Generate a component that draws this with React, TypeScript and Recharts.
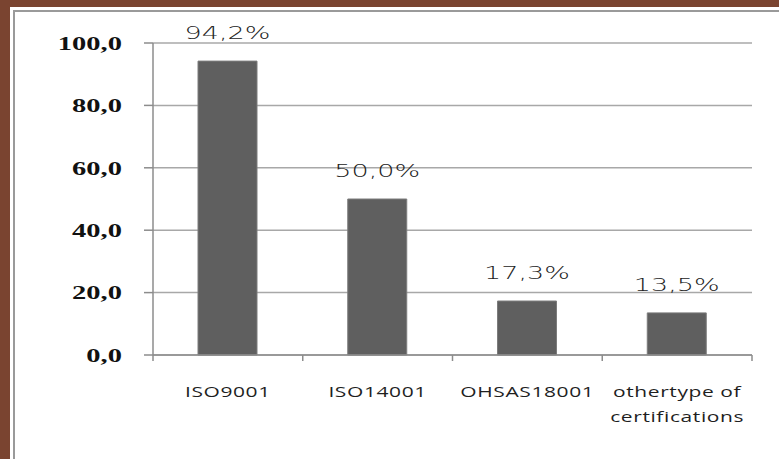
import React from "react";
import { Bar, BarChart, CartesianGrid, LabelList, XAxis, YAxis } from "recharts";

// data
const categories = ["ISO9001", "ISO14001", "OHSAS18001", "othertype of certifications"];
const shares = [94.2, 50.0, 17.3, 13.5];
const yTicks = [0, 20, 40, 60, 80, 100];

const data = categories.map((name, i) => ({ name, share: shares[i] }));

// the source picture is stretched sideways, so text gets scaled the same way
const STRETCH = 1.5;

const fmt = (v: number) => v.toFixed(1).replace(".", ",");

// greedy word wrap for the category labels
const wrap = (s: string, max = 13) => {
  const lines: string[] = [];
  let cur = "";
  s.split(" ").forEach((w) => {
    if (cur && (cur + " " + w).length > max) {
      lines.push(cur);
      cur = w;
    } else {
      cur = cur ? cur + " " + w : w;
    }
  });
  if (cur) lines.push(cur);
  return lines;
};

const YTick = (props: any) => {
  const { x, y, payload } = props;
  return (
    <text
      transform={`translate(${x},${y}) scale(${STRETCH},1)`}
      textAnchor="end"
      dy="0.36em"
      fontFamily="'Liberation Serif', serif"
      fontWeight="bold"
      fontSize={19}
      fill="#111"
    >
      {fmt(payload.value)}
    </text>
  );
};

const XTick = (props: any) => {
  const { x, y, payload, index, width, visibleTicksCount } = props;
  const bw = (width || 599) / (visibleTicksCount || categories.length);
  const lines = wrap(String(payload.value));
  return (
    <g>
      <line x1={x - bw / 2} x2={x - bw / 2} y1={y} y2={y + 6} stroke="#8c8c8c" strokeWidth={1.5} />
      {index === categories.length - 1 && (
        <line x1={x + bw / 2} x2={x + bw / 2} y1={y} y2={y + 6} stroke="#8c8c8c" strokeWidth={1.5} />
      )}
      {lines.map((l, i) => (
        <text
          key={i}
          transform={`translate(${x},${y + 42 + i * 25}) scale(${STRETCH},1)`}
          textAnchor="middle"
          fontFamily="'Open Sans', sans-serif"
          fontSize={14}
          letterSpacing={0.4}
          fill="#1f1f1f"
        >
          {l}
        </text>
      ))}
    </g>
  );
};

const ValueLabel = (props: any) => {
  const { x, y, width, value } = props;
  return (
    <text
      transform={`translate(${x + width / 2},${y - 22}) scale(${STRETCH},1)`}
      textAnchor="middle"
      fontFamily="'DejaVu Sans', sans-serif"
      fontWeight={300}
      fontSize={18}
      fill="#222"
    >
      {fmt(value) + "%"}
    </text>
  );
};

export default function App() {
  return (
    <div style={{ position: "fixed", left: 0, top: 0, width: 779, height: 459, background: "#fff", overflow: "hidden" }}>
      {/* brown frame on the left and top, grey panel edge inside it */}
      <div style={{ position: "absolute", left: 0, top: 0, width: 10, height: 459, background: "#7a4430" }} />
      <div style={{ position: "absolute", left: 0, top: 0, width: 779, height: 7, background: "#7a4430" }} />
      <div style={{ position: "absolute", left: 13, top: 10, width: 2, height: 449, background: "#9a9a9a" }} />
      <div style={{ position: "absolute", left: 13, top: 10, width: 766, height: 2, background: "#9a9a9a" }} />
      <div style={{ position: "absolute", left: 0, top: 0 }}>
        <BarChart width={779} height={459} data={data} margin={{ top: 43, right: 27, bottom: 0, left: 0 }}>
          <CartesianGrid vertical={false} stroke="#a8a8a8" strokeWidth={1.5} />
          <XAxis
            dataKey="name"
            interval={0}
            height={104}
            axisLine={{ stroke: "#8c8c8c", strokeWidth: 1.5 }}
            tickLine={false}
            tickSize={0}
            tickMargin={0}
            tick={<XTick />}
          />
          <YAxis
            width={153}
            domain={[0, 100]}
            ticks={yTicks}
            axisLine={{ stroke: "#8c8c8c", strokeWidth: 1.5 }}
            tickLine={{ stroke: "#8c8c8c", strokeWidth: 1.5 }}
            tickSize={9}
            tickMargin={22}
            tick={<YTick />}
          />
          <Bar dataKey="share" fill="#5f5f5f" stroke="#7c7c7c" strokeWidth={1} barSize={59} isAnimationActive={false}>
            <LabelList dataKey="share" content={<ValueLabel />} />
          </Bar>
        </BarChart>
      </div>
    </div>
  );
}
